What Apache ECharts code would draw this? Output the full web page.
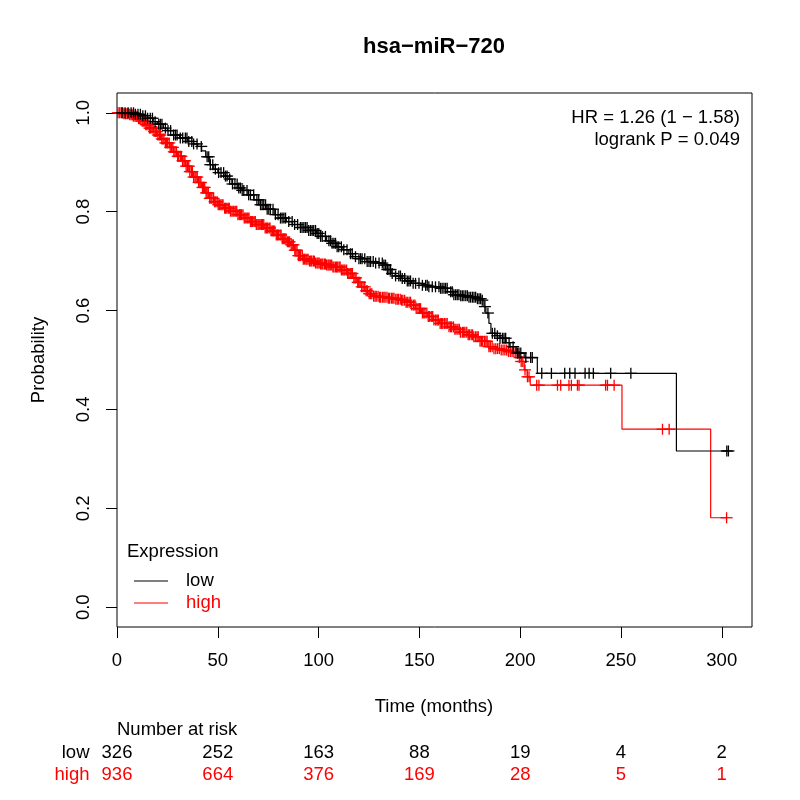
<!DOCTYPE html>
<html>
<head>
<meta charset="utf-8">
<script src="https://cdn.jsdelivr.net/npm/echarts@6/dist/echarts.min.js"></script>
<style>
  html, body {margin: 0; padding: 0; background: #fff;}
  #main {width: 800px; height: 800px;}
</style>
</head>
<body>
<div id="main"></div>
<script>
let xTicks = [0, 50, 100, 150, 200, 250, 300]
let yTicks = [0, 0.2, 0.4, 0.6, 0.8, 1.0]

// low group: step times and survival after each step
let lowTime = [0, 9, 12, 15, 18, 20, 23, 25, 28, 31, 35, 38, 40, 42, 44, 46, 48, 50, 53, 55, 57, 60, 62, 65, 68, 71, 74, 78, 81, 84, 87, 91, 95, 99,
  101, 104, 106, 109, 112, 115, 117, 120, 124, 128, 132, 134, 136, 138, 141, 143, 146, 150, 154, 160, 164, 167, 170, 174, 178, 181,
  182, 183, 184.5, 185.5, 188, 190, 193, 195, 198, 202, 208.5, 277.5, 303.5]
let lowSurv = [1.000, 0.997, 0.994, 0.989, 0.982, 0.977, 0.969, 0.964, 0.955, 0.949, 0.942, 0.937, 0.932, 0.923, 0.911, 0.895, 0.886, 0.879, 0.872, 0.866, 0.856, 0.848, 0.843, 0.834, 0.824, 0.814, 0.805, 0.794, 0.787, 0.780, 0.774, 0.768, 0.762, 0.756,
  0.750, 0.741, 0.736, 0.729, 0.723, 0.715, 0.709, 0.705, 0.699, 0.696, 0.692, 0.683, 0.675, 0.670, 0.665, 0.660, 0.655, 0.651, 0.648, 0.645, 0.638, 0.632, 0.630, 0.627, 0.624, 0.621,
  0.608, 0.595, 0.574, 0.554, 0.549, 0.544, 0.535, 0.527, 0.514, 0.505, 0.473, 0.316, 0.316]
let lowCensor = [2.5, 4, 5.5, 7, 8.2, 9.1, 10.4, 11.6, 12.8, 14.1, 15.2, 16.5, 17.6, 18.9, 20.7, 21.5, 22.3, 24.0, 25.3, 26.6, 28.1, 29.0, 29.8, 31.4, 32.6,
  33.9, 34.7, 35.6, 37.1, 38.0, 39.7, 41.8, 44.7, 45.5, 46.3, 47.5, 48.8, 50.4, 51.6, 52.9, 53.8, 54.6, 55.9, 57.3, 58.5, 59.6, 60.4, 61.2, 62.1, 62.9,
  64.5, 65.3, 66.2, 67.8, 69.4, 70.3, 71.2, 72.0, 72.8, 73.7, 74.5, 75.3, 76.1, 77.4, 78.6, 79.9, 81.1, 81.9, 82.8, 83.6, 85.2, 86.9, 88.1, 89.6, 91.0,
  91.8, 92.7, 93.5, 94.3, 95.1, 96.0, 96.8, 97.6, 98.5, 99.3, 100.1, 101.0, 101.8, 103.4, 105.1, 105.9, 106.7, 107.6, 108.4, 109.2, 110.0, 111.3, 112.5,
  114.1, 115.8, 116.7, 118.3, 120.0, 120.8, 121.6, 122.9, 124.1, 125.0, 125.8, 127.1, 128.3, 130.0, 131.6, 132.4, 133.2, 134.1, 134.9, 135.7, 136.5,
  138.2, 139.8, 140.6, 141.5, 142.7, 144.0, 144.8, 145.6, 146.9, 148.1, 149.8, 151.5, 153.1, 153.9, 154.7, 156.4, 158.0, 159.7, 160.5, 161.3, 162.2,
  163.0, 163.8, 165.5, 166.3, 167.1, 168.0, 168.8, 169.6, 170.5, 171.3, 172.1, 173.0, 173.8, 174.6, 175.4, 176.3, 177.1, 177.9, 178.8, 179.6, 180.4,
  181.2, 182.5, 184.0, 186.2, 187.4, 188.7, 190.0, 191.2, 192.0, 192.8, 194.5, 196.5, 198.6, 199.4, 200.3, 202.8, 205.2, 206.0, 210.7, 215.5, 222.1,
  224.6, 227.2, 232.2, 234.2, 236.3, 244.9, 254.9, 302.5, 303.3]

// high group
let highTime = [0, 3, 6, 8, 10, 12, 14, 16, 18, 20, 22, 24, 26, 28, 30, 32, 34, 36, 38, 40, 42, 44, 46, 48, 50, 53, 56, 60, 63, 66, 69, 73, 76, 79, 82, 84, 86, 88, 90, 92, 95, 98,
  101, 104, 107, 111, 114, 117, 119, 121, 123, 125, 127, 130, 134, 138, 141, 143, 146, 148, 151, 154, 157, 160, 164, 167, 170, 174, 177, 180, 184, 187, 190, 194, 197, 199,
  200.5, 202, 203.5, 205, 250.5, 294.5, 302.5]
let highSurv = [1.000, 0.998, 0.996, 0.993, 0.988, 0.983, 0.976, 0.969, 0.962, 0.955, 0.947, 0.939, 0.930, 0.921, 0.912, 0.903, 0.892, 0.881, 0.870, 0.859, 0.849, 0.838, 0.827, 0.820, 0.814, 0.807, 0.801, 0.794, 0.787, 0.780, 0.774, 0.767, 0.761, 0.753, 0.745, 0.739, 0.733, 0.722, 0.711, 0.704, 0.700, 0.696,
  0.694, 0.692, 0.688, 0.682, 0.675, 0.666, 0.657, 0.648, 0.640, 0.634, 0.629, 0.627, 0.625, 0.623, 0.621, 0.617, 0.611, 0.604, 0.595, 0.588, 0.581, 0.574, 0.567, 0.562, 0.556, 0.551, 0.547, 0.538, 0.527, 0.523, 0.520, 0.517, 0.514, 0.505,
  0.497, 0.480, 0.466, 0.449, 0.360, 0.181, 0.181]
let highCensor = [0.4, 1.1, 1.5, 2.3, 2.8, 3.4, 4.1, 4.5, 5.2, 5.9, 6.3, 7.0, 7.6, 8.1, 8.9, 9.4, 9.9, 10.7, 11.2, 11.8, 12.5, 13.0, 13.6, 14.3, 14.8,
  15.4, 16.1, 16.6, 17.3, 17.9, 18.4, 19.2, 19.7, 20.3, 21.0, 21.5, 22.2, 22.8, 23.3, 24.0, 24.6, 25.1, 25.9, 26.4, 27.0, 27.7, 28.2, 28.8, 29.5, 30.1,
  30.6, 31.4, 31.9, 32.5, 33.2, 33.7, 34.3, 35.0, 35.6, 36.1, 36.9, 37.4, 38.0, 38.7, 39.2, 39.8, 40.5, 41.1, 41.6, 42.4, 42.9, 43.5, 44.2, 44.7, 45.3,
  46.0, 46.6, 47.1, 47.9, 48.4, 49.0, 49.7, 50.2, 50.8, 51.5, 52.1, 52.6, 53.4, 53.9, 54.5, 55.2, 55.7, 56.3, 57.0, 57.6, 58.1, 58.9, 59.4, 60.0, 60.7,
  61.2, 61.8, 62.5, 63.1, 63.6, 64.4, 64.9, 65.5, 66.2, 66.7, 67.3, 68.0, 68.6, 69.1, 69.9, 70.4, 71.0, 71.7, 72.2, 72.8, 73.5, 74.1, 74.6, 75.4, 75.9,
  76.5, 77.2, 77.7, 78.3, 79.0, 79.6, 80.1, 80.9, 81.4, 82.0, 82.7, 83.2, 83.8, 84.5, 85.1, 85.6, 86.4, 86.9, 87.5, 88.2, 88.7, 89.3, 90.0, 90.6, 91.1,
  91.9, 92.4, 93.0, 93.7, 94.2, 94.8, 95.5, 96.1, 96.6, 97.4, 97.9, 98.5, 99.2, 99.7, 100.3, 101.0, 101.6, 102.1, 102.9, 103.4, 104.0, 104.7, 105.2,
  105.8, 106.5, 107.1, 107.6, 108.4, 108.9, 109.5, 110.2, 110.7, 111.3, 112.0, 112.6, 113.1, 113.9, 114.4, 115.0, 115.7, 116.2, 116.8, 117.5, 118.1,
  118.6, 119.4, 119.9, 120.5, 121.4, 122.1, 122.9, 123.6, 124.2, 125.1, 125.8, 126.4, 127.3, 128.0, 128.6, 129.5, 130.2, 130.8, 131.7, 132.4, 133.0,
  133.9, 134.6, 135.2, 136.1, 136.8, 137.4, 138.3, 139.0, 139.6, 140.5, 141.2, 141.8, 142.7, 143.4, 144.0, 144.9, 145.6, 146.2, 147.1, 147.8, 148.4,
  149.3, 150.0, 150.6, 151.5, 152.2, 152.8, 153.7, 154.4, 155.0, 155.9, 156.6, 157.2, 158.1, 158.8, 159.4, 160.3, 161.0, 161.6, 162.5, 163.2, 163.8,
  164.7, 165.4, 166.0, 166.9, 167.6, 168.2, 169.1, 169.8, 170.4, 171.3, 172.0, 172.6, 173.5, 174.2, 174.8, 175.7, 176.4, 177.0, 177.9, 178.6, 179.2,
  180.1, 180.8, 181.4, 182.3, 183.0, 183.6, 184.5, 185.2, 186.1, 187.0, 187.9, 188.8, 189.7, 190.6, 191.5, 192.4, 193.3, 194.2, 195.1, 196.0, 196.9,
  197.8, 198.7, 199.6, 200.5, 201.3, 202.4, 203.6, 204.4, 208.2, 209.3, 218.5, 220.1, 224.2, 225.4, 228.4, 229.2, 242.4, 243.3, 246.6, 270.6, 273.9,
  302.4]

let riskLow = [326, 252, 163, 88, 19, 4, 2]
let riskHigh = [936, 664, 376, 169, 28, 5, 1]

let FONT = '"Liberation Sans", Arial, Helvetica, sans-serif'
let FS = 18.5
let RED = '#ff0000'

function stepAt(times, survs, t){
  let v = survs[0]
  for(let i = 0; i < times.length; i++){
    if(times[i] <= t) v = survs[i]
  }
  return v
}
function pairs(xs, ys){
  return xs.map((x, i) => [x, ys[i]])
}
function censorData(cens, times, survs){
  return cens.map(t => [t, stepAt(times, survs, t)])
}
function crossRender(color){
  return function(params, api){
    let p = api.coord([api.value(0), api.value(1)])
    let st = {stroke: color, lineWidth: 1.3}
    return {
      type: 'group',
      children: [
        {type: 'line', shape: {x1: p[0] - 6, y1: p[1], x2: p[0] + 6, y2: p[1]}, style: st},
        {type: 'line', shape: {x1: p[0], y1: p[1] - 5.5, x2: p[0], y2: p[1] + 5.5}, style: st}
      ]
    }
  }
}

let chart = echarts.init(document.getElementById('main'), null, {renderer: 'canvas'})
let option = {
  backgroundColor: '#fff',
  animation: false,
  grid: {
    left: 117, right: 48, top: 93, bottom: 173,
    show: true, borderColor: '#000', borderWidth: 1
  },
  xAxis: {
    type: 'value', min: 0, max: 315,
    axisLine: {show: false, onZero: false},
    splitLine: {show: false},
    axisTick: {length: 11, lineStyle: {color: '#000'}, customValues: xTicks},
    axisLabel: {customValues: xTicks, margin: 24, color: '#000', fontSize: FS, fontFamily: FONT}
  },
  yAxis: {
    type: 'value', min: -0.04, max: 1.04,
    axisLine: {show: false, onZero: false},
    splitLine: {show: false},
    axisTick: {length: 11, lineStyle: {color: '#000'}, customValues: yTicks},
    axisLabel: {
      customValues: yTicks, rotate: 90, margin: 24, color: '#000', fontSize: FS, fontFamily: FONT,
      formatter: v => v.toFixed(1)
    }
  },
  series: [
    {type: 'line', step: 'end', data: pairs(lowTime, lowSurv), showSymbol: false, lineStyle: {color: '#000', width: 1.2}, z: 3},
    {type: 'line', step: 'end', data: pairs(highTime, highSurv), showSymbol: false, lineStyle: {color: RED, width: 1.2}, z: 2},
    {type: 'custom', renderItem: crossRender('#000'), data: censorData(lowCensor, lowTime, lowSurv), z: 3},
    {type: 'custom', renderItem: crossRender(RED), data: censorData(highCensor, highTime, highSurv), z: 2}
  ]
}
chart.setOption(option)

function txt(s, x, y, extra){
  return {
    type: 'text', x: x, y: y,
    style: Object.assign({text: s, fontSize: FS, fontFamily: FONT, fill: '#000', align: 'center', verticalAlign: 'middle'}, extra || {})
  }
}

let graphics = [
  txt('hsa\u2212miR\u2212720', 434, 47, {fontSize: 22, fontWeight: 'bold'}),
  txt('HR = 1.26 (1 \u2212 1.58)', 740, 118, {align: 'right'}),
  txt('logrank P = 0.049', 740, 140, {align: 'right'}),
  txt('Expression', 127, 552, {align: 'left'}),
  {type: 'line', shape: {x1: 134, y1: 581, x2: 168, y2: 581}, style: {stroke: '#000', lineWidth: 1.2}},
  {type: 'line', shape: {x1: 134, y1: 603, x2: 168, y2: 603}, style: {stroke: RED, lineWidth: 1.2}},
  txt('low', 186, 581, {align: 'left'}),
  txt('high', 186, 603, {align: 'left', fill: RED}),
  Object.assign(txt('Probability', 39, 360), {rotation: Math.PI / 2}),
  txt('Time (months)', 434, 707),
  txt('Number at risk', 117, 730, {align: 'left'}),
  txt('low', 89.5, 753, {align: 'right'}),
  txt('high', 89.5, 775, {align: 'right', fill: RED})
]
xTicks.forEach((t, i) => {
  let px = chart.convertToPixel({xAxisIndex: 0}, t)
  graphics.push(txt(String(riskLow[i]), px, 753))
  graphics.push(txt(String(riskHigh[i]), px, 775, {fill: RED}))
})
chart.setOption({graphic: graphics})
window.onresize = chart.resize
</script>
</body>
</html>
